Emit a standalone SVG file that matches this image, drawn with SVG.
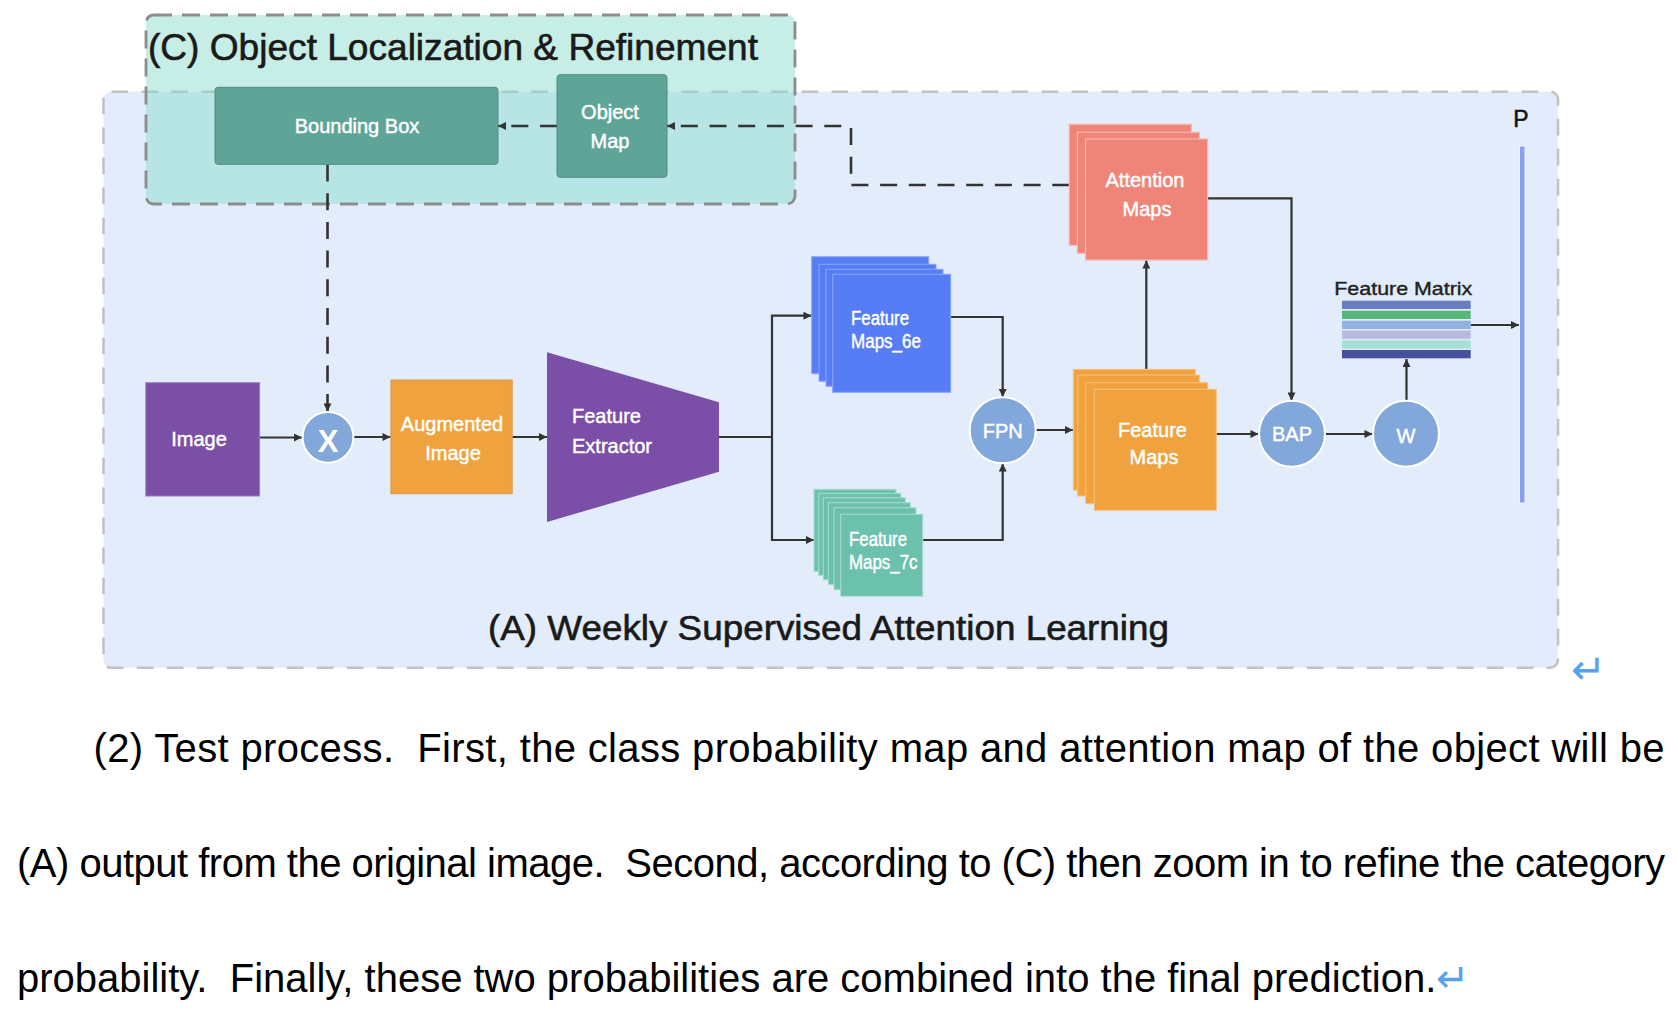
<svg xmlns="http://www.w3.org/2000/svg" width="1678" height="1014" viewBox="0 0 1678 1014">
<style>
  text { font-family: "Liberation Sans", Arial, sans-serif; }
  .w { fill: #ffffff; font-size: 20px; stroke: #ffffff; stroke-width: 0.45; }
  .wc { fill: #ffffff; font-size: 20px; text-anchor: middle; stroke: #ffffff; stroke-width: 0.45; }
  .title { fill: #1a1a1a; stroke: #1a1a1a; stroke-width: 0.6; }
  .para { fill: #000000; font-size: 40px; }
  .conn { fill: none; stroke: #333333; stroke-width: 2.2; }
  .dash { fill: none; stroke: #333333; stroke-width: 2.6; stroke-dasharray: 17 11.7; }
  .circ { fill: #82a7db; stroke: #ffffff; stroke-width: 2; }
  .blue { fill: #567df5; stroke: #8aa6f8; stroke-width: 1; }
  .green { fill: #6cc1ac; stroke: #a8ddd0; stroke-width: 1; }
  .orange { fill: #f0a23e; stroke: #f6c47e; stroke-width: 1; }
  .red { fill: #ef8579; stroke: #f7b5ad; stroke-width: 1.2; }
  .teal { fill: #5fa597; stroke: #4f8d81; stroke-width: 1; }
  .ret { fill: #5aa0f0; font-family: "DejaVu Sans", sans-serif; font-weight: 200; }
</style>
<defs>
  <marker id="arr" viewBox="0 0 10 10" refX="10" refY="5" markerWidth="9" markerHeight="8" markerUnits="userSpaceOnUse" orient="auto">
    <path d="M0,0 L10,5 L0,10 z" fill="#333333"/>
  </marker>
</defs>
<rect width="1678" height="1014" fill="#ffffff"/>

<g id="containerA">
  <rect x="103.5" y="91.7" width="1454.5" height="576" rx="8" fill="#e2ecfb" stroke="#c2c2c2" stroke-width="2.6" stroke-dasharray="16.7 13.3"/>
  <text class="title" x="488" y="640" font-size="35" textLength="681" lengthAdjust="spacingAndGlyphs">(A) Weekly Supervised Attention Learning</text>
</g>
<g id="containerC">
  <rect x="146" y="15" width="649" height="189" rx="8" fill="rgb(135,220,203)" fill-opacity="0.48" stroke="#8c8c8c" stroke-width="2.8" stroke-dasharray="18 10"/>
  <text class="title" x="148" y="60" font-size="37" textLength="610" lengthAdjust="spacingAndGlyphs">(C) Object Localization &amp; Refinement</text>
</g>

<g id="connectors">
  <path class="conn" d="M259.6,437.5 H302" marker-end="url(#arr)"/>
  <path class="conn" d="M353.5,437 H390.5" marker-end="url(#arr)"/>
  <path class="conn" d="M512.2,437 H547" marker-end="url(#arr)"/>
  <path class="conn" d="M719,437 H772"/>
  <path class="conn" d="M772,437 V315.7 H811.5" marker-end="url(#arr)"/>
  <path class="conn" d="M772,437 V540 H814" marker-end="url(#arr)"/>
  <path class="conn" d="M950.7,317 H1002.7 V397" marker-end="url(#arr)"/>
  <path class="conn" d="M922.7,540 H1002.7 V463.5" marker-end="url(#arr)"/>
  <path class="conn" d="M1035.7,430 H1073" marker-end="url(#arr)"/>
  <path class="conn" d="M1146.3,369 V260.5" marker-end="url(#arr)"/>
  <path class="conn" d="M1207.6,198.3 H1291.5 V400.5" marker-end="url(#arr)"/>
  <path class="conn" d="M1216,434 H1258.5" marker-end="url(#arr)"/>
  <path class="conn" d="M1325,434 H1372.5" marker-end="url(#arr)"/>
  <path class="conn" d="M1406.5,400.5 V359" marker-end="url(#arr)"/>
  <path class="conn" d="M1470.7,325 H1519" marker-end="url(#arr)"/>
  <path class="dash" d="M1069.3,185 H851 V126 H667" marker-end="url(#arr)"/>
  <path class="dash" d="M557,126 H498" marker-end="url(#arr)"/>
  <path class="dash" d="M327.5,164.5 V411.5" marker-end="url(#arr)"/>
</g>

<g id="boundingBox">
  <rect class="teal" x="215" y="87.3" width="283" height="77" rx="3"/>
  <text class="wc" x="357" y="133">Bounding Box</text>
</g>
<g id="objectMap">
  <rect class="teal" x="557" y="74.7" width="110" height="102.6" rx="3"/>
  <text class="wc" x="610" y="119">Object</text>
  <text class="wc" x="610" y="148">Map</text>
</g>

<g id="image">
  <rect x="145.8" y="382.7" width="113.8" height="113.3" fill="#7b4fa6" stroke="#9b7cc0" stroke-width="1"/>
  <text class="wc" x="199" y="446">Image</text>
</g>
<g id="multiply">
  <circle class="circ" cx="328" cy="437.3" r="25.4"/>
  <text x="328" y="451.5" fill="#ffffff" font-size="31" font-weight="bold" text-anchor="middle">X</text>
</g>
<g id="augmentedImage">
  <rect x="390.9" y="380" width="121.3" height="113.7" fill="#f0a23e" stroke="#d99a52" stroke-width="1"/>
  <text class="wc" x="452" y="431" font-size="20.5">Augmented</text>
  <text class="wc" x="453" y="460" font-size="20.5">Image</text>
</g>
<g id="featureExtractor">
  <polygon points="547,352.3 719,402.3 719,471.7 547,522" fill="#7b4ea7"/>
  <text class="w" x="572" y="423" font-size="21">Feature</text>
  <text class="w" x="572" y="453" font-size="21">Extractor</text>
</g>

<g id="featureMaps6e">
  <rect class="blue" x="811.7" y="256.7" width="117" height="117"/>
  <rect class="blue" x="819" y="264.3" width="117" height="117"/>
  <rect class="blue" x="826" y="269.3" width="117" height="117"/>
  <rect class="blue" x="832.7" y="274.3" width="118" height="118"/>
  <text class="w" x="851" y="325" font-size="17" textLength="58" lengthAdjust="spacingAndGlyphs">Feature</text>
  <text class="w" x="851" y="348" font-size="17" textLength="70" lengthAdjust="spacingAndGlyphs">Maps_6e</text>
</g>
<g id="featureMaps7c">
  <rect class="green" x="814" y="489.3" width="82" height="82"/>
  <rect class="green" x="818.7" y="493.3" width="82" height="82"/>
  <rect class="green" x="823.3" y="497.7" width="82" height="82"/>
  <rect class="green" x="828.3" y="502.7" width="82" height="82"/>
  <rect class="green" x="834" y="507.7" width="82" height="82"/>
  <rect class="green" x="840.7" y="514.3" width="82" height="82"/>
  <text class="w" x="849" y="546" font-size="17" textLength="58" lengthAdjust="spacingAndGlyphs">Feature</text>
  <text class="w" x="849" y="569" font-size="17" textLength="68.5" lengthAdjust="spacingAndGlyphs">Maps_7c</text>
</g>
<g id="fpn">
  <circle class="circ" cx="1002.7" cy="430.3" r="33"/>
  <text class="wc" x="1002.7" y="438">FPN</text>
</g>
<g id="featureMaps">
  <rect class="orange" x="1073.3" y="369.3" width="122" height="121"/>
  <rect class="orange" x="1077.7" y="375" width="122" height="121"/>
  <rect class="orange" x="1085.7" y="382.7" width="122" height="121"/>
  <rect class="orange" x="1094.3" y="389.3" width="122" height="121"/>
  <text class="wc" x="1152.5" y="437" font-size="21">Feature</text>
  <text class="wc" x="1154" y="464" font-size="21">Maps</text>
</g>
<g id="attentionMaps">
  <rect class="red" x="1069.3" y="124.3" width="122" height="121"/>
  <rect class="red" x="1077.4" y="132.3" width="122" height="121"/>
  <rect class="red" x="1085.6" y="139" width="122" height="121"/>
  <text class="wc" x="1145" y="187" font-size="21">Attention</text>
  <text class="wc" x="1147" y="216" font-size="21">Maps</text>
</g>
<g id="bap">
  <circle class="circ" cx="1292" cy="433.7" r="33"/>
  <text class="wc" x="1292" y="441">BAP</text>
</g>
<g id="w">
  <circle class="circ" cx="1406" cy="433.7" r="33"/>
  <text class="wc" x="1406" y="443" font-size="19">W</text>
</g>
<g id="featureMatrix">
  <text x="1334.3" y="295" font-size="19" fill="#222222" stroke="#222222" stroke-width="0.4" textLength="138" lengthAdjust="spacingAndGlyphs">Feature Matrix</text>
  <rect x="1342" y="300.7" width="128.7" height="8.3" fill="#6a7dc0"/>
  <rect x="1342" y="310.7" width="128.7" height="8.3" fill="#57b778"/>
  <rect x="1342" y="320.7" width="128.7" height="8.3" fill="#92b1e1"/>
  <rect x="1342" y="330.5" width="128.7" height="8.3" fill="#b8b9df"/>
  <rect x="1342" y="340.3" width="128.7" height="8.3" fill="#a7e0d6"/>
  <rect x="1342" y="350" width="128.7" height="8.3" fill="#46519b"/>
</g>
<g id="p">
  <text x="1521" y="126.5" font-size="23" fill="#111111" stroke="#111111" stroke-width="0.5" text-anchor="middle">P</text>
  <rect x="1519.5" y="146" width="5.5" height="357" fill="#8c9ef2" stroke="#ffffff" stroke-width="0.8"/>
</g>

<text class="ret" x="1571" y="684" font-size="42">↵</text>

<g id="paragraph">
  <text class="para" x="93.6" y="762" xml:space="preserve" textLength="1571" lengthAdjust="spacing">(2) Test process.  First, the class probability map and attention map of the object will be</text>
  <text class="para" x="17" y="877" xml:space="preserve" textLength="1648" lengthAdjust="spacing">(A) output from the original image.  Second, according to (C) then zoom in to refine the category</text>
  <text class="para" x="17" y="992" xml:space="preserve">probability.  Finally, these two probabilities are combined into the final prediction.<tspan class="ret" font-size="40">↵</tspan></text>
</g>
</svg>
